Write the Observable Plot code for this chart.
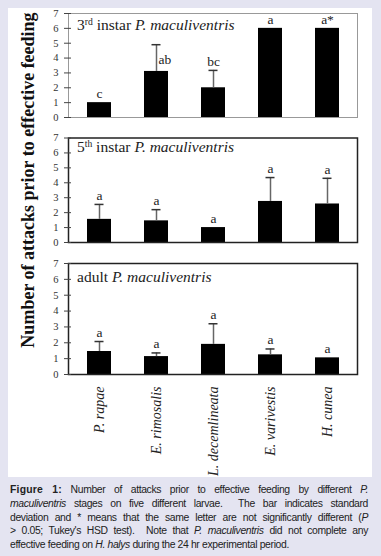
<!DOCTYPE html>
<html>
<head>
<meta charset="utf-8">
<script src="https://cdn.jsdelivr.net/npm/d3@7"></script>
<script src="https://cdn.jsdelivr.net/npm/@observablehq/plot@0.6"></script>
<style>
  html, body { margin: 0; padding: 0; background: #e4e4f1; }
  #wrap { position: relative; width: 381px; height: 556px; overflow: hidden; }
  #panel { position: absolute; left: 8px; top: 8px; width: 364px; height: 469px; background: #fff; }
  .plot { position: absolute; left: 0; }
  .ptitle { position: absolute; left: 77px; font-family: "Liberation Serif", serif; font-size: 15.5px; line-height: 1; color: #222; white-space: nowrap; }
  .ptitle sup { font-size: 0.62em; vertical-align: 0.55em; line-height: 0; }
  #ylab { position: absolute; left: -172px; top: 170px; width: 400px; height: 20px; line-height: 20px; text-align: center;
          font-family: "Liberation Serif", serif; font-weight: bold; font-size: 18px; color: #111; transform: rotate(-90deg); white-space: nowrap; }
  #caption { position: absolute; left: 10px; top: 483px; width: 358px; font-family: "Liberation Sans", Arial, sans-serif; font-size: 10.4px; letter-spacing: -0.36px; color: #222; }
  #caption div { line-height: 13.75px; height: 13.75px; text-align: justify; text-align-last: justify; white-space: nowrap; transform: scaleY(1.06); }
  #caption div.last { text-align-last: left; }
  #caption b { letter-spacing: 0.2px; }
</style>
</head>
<body>
<div id="wrap">
  <div id="panel"></div>
  <div id="plots"></div>
  <div id="ylab">Number of attacks prior to effective feeding</div>
  <div class="ptitle" style="top:17px">3<sup>rd</sup> instar <i>P. maculiventris</i></div>
  <div class="ptitle" style="top:139px">5<sup>th</sup> instar <i>P. maculiventris</i></div>
  <div class="ptitle" style="top:269px">adult <i>P. maculiventris</i></div>
  <div id="caption">
    <div><b>Figure 1:</b> Number of attacks prior to effective feeding by different <i>P.</i></div>
    <div><i>maculiventris</i> stages on five different larvae.&nbsp; The bar indicates standard</div>
    <div>deviation and * means that the same letter are not significantly different (<i>P</i></div>
    <div>&gt; 0.05; Tukey's HSD test).&nbsp; Note that <i>P. maculiventris</i> did not complete any</div>
    <div class="last">effective feeding on <i>H. halys</i> during the 24 hr experimental period.</div>
  </div>
</div>
<script>
// ---- data ----
const species = ["P. rapae", "E. rimosalis", "L. decemlineata", "E. varivestis", "H. cunea"];
const yTicks = [0, 1, 2, 3, 4, 5, 6, 7];

const thirdMean = [1.0, 3.1, 2.0, 6.0, 6.0];
const thirdSd = [0, 1.8, 1.17, 0, 0];
const thirdLetters = ["c", "ab", "bc", "a", "a*"];

const fifthMean = [1.55, 1.45, 1.0, 2.75, 2.58];
const fifthSd = [1.0, 0.75, 0, 1.6, 1.72];
const fifthLetters = ["a", "a", "a", "a", "a"];

const adultMean = [1.45, 1.13, 1.9, 1.24, 1.05];
const adultSd = [0.63, 0.23, 1.3, 0.37, 0];
const adultLetters = ["a", "a", "a", "a", "a"];

function panel(mean, sd, letters, o) {
  const data = species.map((s, i) => ({s, v: mean[i], sd: sd[i], l: letters[i], i}));
  const err = data.filter(d => d.sd > 0);
  const beside = o.beside || [];
  const above = data.filter(d => !beside.includes(d.i));
  const side = data.filter(d => beside.includes(d.i));
  const svg = Plot.plot({
    width: 381,
    height: o.height,
    marginLeft: 68,
    marginRight: 24,
    marginTop: o.mt,
    marginBottom: o.mb,
    style: {background: "transparent", overflow: "visible", fontFamily: "'Liberation Serif', serif"},
    x: {domain: species, paddingInner: 0.583, paddingOuter: 0.3, label: null},
    y: {domain: [0, 7], label: null},
    marks: [
      Plot.barY(data, {x: "s", y: "v", fill: "#000"}),
      Plot.ruleX(err, {x: "s", y1: "v", y2: d => d.v + d.sd, stroke: "#666", strokeWidth: 1.5}),
      Plot.tickY(err, {x: "s", y: d => d.v + d.sd, insetLeft: 7.5, insetRight: 7.5, stroke: "#333", strokeWidth: 1.5}),
      Plot.text(above, {x: "s", y: d => d.v + d.sd, text: "l", dy: -4.5, lineAnchor: "bottom", fontSize: 13.5, fill: "#222"}),
      Plot.text(side, {x: "s", y: "v", text: "l", dx: 2, dy: -7, textAnchor: "start", lineAnchor: "bottom", fontSize: 13.5, fill: "#222"}),
      Plot.frame({stroke: o.frame, strokeWidth: o.fw}),
      Plot.axisY({ticks: yTicks, tickFormat: d => String(d), tickSize: 7, dx: 3, tickPadding: 6, fontSize: 10.5, stroke: "#444", fill: "#333"}),
      o.xaxis
        ? Plot.axisX({tickSize: 0, tickPadding: 12, tickRotate: -90, fontSize: 14, fontStyle: "italic", fill: "#222"})
        : Plot.axisX({ticks: []})
    ]
  });
  svg.classList.add("plot");
  svg.style.top = o.top + "px";
  return svg;
}

const host = document.getElementById("plots");
host.append(
  panel(thirdMean, thirdSd, thirdLetters, {top: 0, height: 125, mt: 13, mb: 8, frame: "#999", fw: 1, beside: [1]}),
  panel(fifthMean, fifthSd, fifthLetters, {top: 125, height: 125, mt: 12.5, mb: 8, frame: "#222", fw: 1.5}),
  panel(adultMean, adultSd, adultLetters, {top: 250, height: 226, mt: 13, mb: 102, frame: "#222", fw: 1.5, xaxis: true})
);
</script>
</body>
</html>
